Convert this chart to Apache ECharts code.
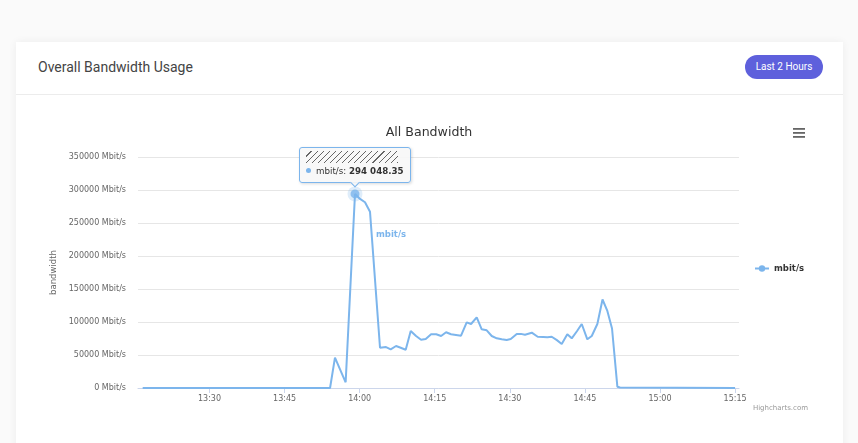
<!DOCTYPE html>
<html><head><meta charset="utf-8">
<script src="https://cdn.jsdelivr.net/npm/echarts@6/dist/echarts.min.js"></script>
<style>
html,body{margin:0;padding:0;width:858px;height:443px;overflow:hidden;background:#fafafa;}
.card{position:absolute;left:16px;top:42px;width:827px;height:420px;background:#fff;box-shadow:0 0 8px rgba(0,0,0,0.06);}
.hdr{position:absolute;left:0;top:0;right:0;height:52px;border-bottom:1px solid #ececec;}
.hdr h4{position:absolute;left:22px;top:16px;margin:0;font-family:Roboto,sans-serif;font-weight:400;font-size:14px;color:#444;line-height:18px}
.btn{position:absolute;left:729px;top:13px;width:78px;height:24px;border-radius:12px;background:#5e60dc;color:#fff;font-family:Roboto,sans-serif;font-size:10px;line-height:24px;text-align:center;}
#chart{position:absolute;left:0;top:0;width:858px;height:443px;}
</style></head>
<body>
<div class="card"><div class="hdr"><h4>Overall Bandwidth Usage</h4><div class="btn">Last 2 Hours</div></div></div>
<div id="chart"></div>
<script>
const chartTitle = 'All Bandwidth';
const seriesName = 'mbit/s';
const yAxisName = 'bandwidth';
const times = ['13:16:39','13:54:05','13:55:04','13:57:12','13:59:04','13:59:56','14:01:04','14:02:04','14:04:04','14:05:16','14:06:12','14:07:16','14:08:12','14:09:12','14:10:12','14:11:16','14:12:16','14:13:12','14:14:16','14:15:18','14:16:16','14:17:16','14:18:15','14:19:15','14:20:15','14:21:23','14:22:15','14:23:23','14:24:23','14:25:23','14:26:23','14:27:23','14:28:23','14:29:23','14:30:11','14:31:23','14:32:12','14:33:02','14:34:23','14:35:34','14:36:41','14:37:30','14:38:22','14:39:24','14:40:22','14:41:29','14:42:22','14:43:24','14:44:22','14:45:29','14:46:22','14:47:29','14:48:31','14:49:29','14:50:25','14:51:29','14:52:01','15:15:00'];
const values = [0,0,45900,8600,294048.35,287400,281400,267100,61000,62000,58600,63600,61000,58000,86400,78800,73200,74200,81400,81400,78800,84400,81400,80300,79200,99500,97000,107100,88900,87400,78800,75300,73800,72700,74200,81800,82000,80800,83800,77700,77300,77000,77700,72500,66700,81400,75300,86000,97000,73800,78800,97000,134100,116700,90200,2000,700,0];
const xTickLabels = ['13:30','13:45','14:00','14:15','14:30','14:45','15:00','15:15'];
const xRange = ['13:15:43','15:15:47'];
const yMin = 0, yMax = 350000, yStep = 50000;
const yUnit = 'Mbit/s';

function toMin(s){const p=s.split(':').map(Number);return p[0]*60+p[1]+(p[2]||0)/60;}
function fmtMin(m){const h=Math.floor(m/60), mm=Math.round(m-h*60);return h+':'+String(mm).padStart(2,'0');}
function fmtNum(v){const parts=v.toFixed(2).split('.');return parts[0].replace(/\B(?=(\d{3})+(?!\d))/g,' ')+'.'+parts[1];}

const data = times.map((t,i)=>[toMin(t), values[i]]);
const peakIdx = values.indexOf(Math.max(...values));
const peak = data[peakIdx];
const tickVals = xTickLabels.map(toMin);
const FONT = 'DejaVu Sans';
const LINE = '#7cb5ec';

const chart = echarts.init(document.getElementById('chart'), null, {renderer:'canvas'});
chart.setOption({
  animation:false,
  backgroundColor:'transparent',
  title:{text:chartTitle,left:'center',top:121,textStyle:{fontFamily:FONT,fontSize:12.6,fontWeight:'normal',color:'#333'}},
  grid:{left:138,right:119,top:157,bottom:55},
  legend:{data:[seriesName],orient:'vertical',left:749,top:259,itemWidth:14,itemHeight:8,itemGap:6,
    textStyle:{fontFamily:FONT,fontSize:8.5,fontWeight:'bold',color:'#333'}},
  tooltip:{trigger:'item',triggerOn:'none',alwaysShowContent:true,position:'top',
    backgroundColor:'rgba(247,247,247,0.9)',borderColor:LINE,borderWidth:1,padding:[3,6,5,6],
    extraCssText:'box-shadow:1px 1px 3px rgba(0,0,0,0.15);border-radius:3px;',
    textStyle:{fontFamily:FONT,fontSize:8.7,color:'#333'},
    formatter:function(p){
      const v=p.value[1];
      return '<div style="height:12px;width:92px;margin-bottom:3px;background:repeating-linear-gradient(135deg,transparent 0 3.5px,#666 3.5px 4.3px);"></div>'+
        '<div style="font-family:DejaVu Sans;font-size:8.7px;line-height:11px;color:#333;white-space:nowrap"><span style="display:inline-block;width:5px;height:5px;border-radius:50%;background:'+LINE+';margin-right:5px;vertical-align:1px"></span>'+seriesName+': <b>'+fmtNum(v)+'</b></div>';
    }},
  xAxis:{type:'value',min:toMin(xRange[0]),max:toMin(xRange[1]),
    axisLine:{show:true,lineStyle:{color:'#ccd6eb',width:1}},
    axisTick:{show:true,length:5,customValues:tickVals,lineStyle:{color:'#ccd6eb'}},
    axisLabel:{customValues:tickVals,formatter:fmtMin,color:'#666',fontFamily:FONT,fontSize:8,margin:7},
    splitLine:{show:false}},
  yAxis:{type:'value',min:yMin,max:yMax,interval:yStep,
    name:yAxisName,nameLocation:'middle',nameGap:74,nameRotate:90,
    nameTextStyle:{fontFamily:FONT,fontSize:8.5,color:'#666'},
    axisLine:{show:false},axisTick:{show:false},
    axisLabel:{formatter:function(v){return v+' '+yUnit;},color:'#666',fontFamily:FONT,fontSize:8,margin:12},
    splitLine:{lineStyle:{color:'#e6e6e6',width:1}}},
  series:[
    {name:seriesName,type:'line',data:data,symbol:'circle',showSymbol:false,symbolSize:7,
      lineStyle:{color:LINE,width:2},itemStyle:{color:LINE},emphasis:{disabled:true},z:3},
    {name:'halo',type:'scatter',data:[peak],symbolSize:15,itemStyle:{color:'rgba(124,181,236,0.3)'},
      emphasis:{disabled:true},silent:true,z:2,tooltip:{show:false}},
    {name:'marker',type:'scatter',data:[peak],symbolSize:9,itemStyle:{color:LINE},
      emphasis:{disabled:true},silent:true,z:4,tooltip:{show:false}},
    {name:'tipTarget',type:'scatter',data:[peak],symbolSize:2,itemStyle:{color:'rgba(0,0,0,0)'},
      emphasis:{disabled:true},z:1}
  ],
  graphic:[
    {type:'text',left:376,top:230,style:{text:seriesName,fill:LINE,font:'bold 8.5px "DejaVu Sans"'}},
    {type:'text',right:50,top:405,style:{text:'Highcharts.com',fill:'#999',font:'7px "DejaVu Sans"'}},
    {type:'rect',shape:{x:793,y:128,width:12,height:1.8},style:{fill:'#666'}},
    {type:'rect',shape:{x:793,y:132,width:12,height:1.8},style:{fill:'#666'}},
    {type:'rect',shape:{x:793,y:136,width:12,height:1.8},style:{fill:'#666'}}
  ]
});
chart.dispatchAction({type:'showTip',seriesIndex:3,dataIndex:0});
</script>
</body></html>
